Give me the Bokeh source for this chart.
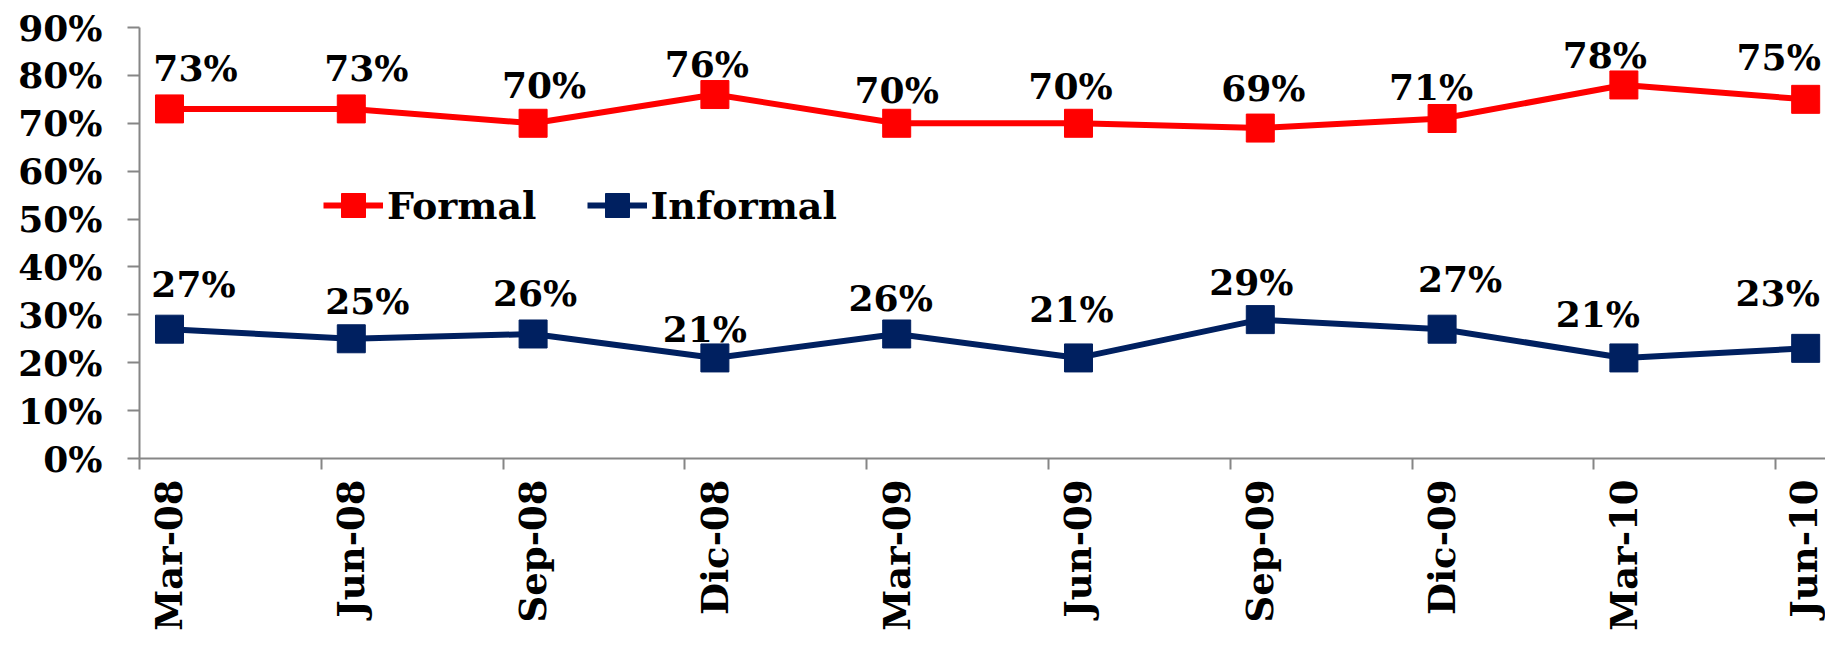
import math
from bokeh.plotting import figure
from bokeh.models import (ColumnDataSource, FixedTicker, Range1d, Legend, LegendItem,
                          PrintfTickFormatter)
from bokeh.embed import file_html
from bokeh.resources import INLINE
from bokeh.core.properties import value

# ---- data ----
periods = ["Mar-08", "Jun-08", "Sep-08", "Dic-08", "Mar-09",
           "Jun-09", "Sep-09", "Dic-09", "Mar-10", "Jun-10"]
formal = [73, 73, 70, 76, 70, 70, 69, 71, 78, 75]
informal = [27, 25, 26, 21, 26, 21, 29, 27, 21, 23]
y_ticks = [0, 10, 20, 30, 40, 50, 60, 70, 80, 90]

# ---- label nudges (screen px, label baseline relative to marker centre) ----
formal_dx = [26, 15, 11, -8, 0, -8, 3, -11, -19, -27]
formal_dy = [31, 31, 28, 21, 23, 27, 30, 21, 20, 32]
informal_dx = [24, 16, 2, -10, -6, -7, -9, 18, -26, -28]
informal_dy = [35, 28, 31, 19, 26, 39, 28, 40, 34, 45]
LABEL_LIFT = 10

FONT = "DejaVu Serif"
RED = "#FF0000"
NAVY = "#002060"
AXIS = "#868686"
TICK_SHIFT = 0.165

xs = list(range(len(periods)))

p = figure(width=1825, height=634, output_backend="svg", toolbar_location=None,
           x_range=Range1d(-TICK_SHIFT, 9.109), y_range=Range1d(0, 90),
           min_border_left=139, min_border_right=0, min_border_top=27,
           min_border_bottom=176)
p.outline_line_color = None
p.grid.visible = False
p.background_fill_color = "white"

# x axis
xa = p.xaxis[0]
xa.ticker = FixedTicker(ticks=xs, minor_ticks=[i - TICK_SHIFT for i in xs])
xa.major_label_overrides = {i: lab for i, lab in enumerate(periods)}
xa.major_tick_out = 0
xa.major_tick_in = 0
xa.minor_tick_out = 11
xa.minor_tick_in = 0
xa.minor_tick_line_color = AXIS
xa.minor_tick_line_width = 2
xa.axis_line_color = AXIS
xa.axis_line_width = 2
xa.major_label_orientation = math.pi / 2
xa.major_label_standoff = 10
xa.major_label_text_font = FONT
xa.major_label_text_font_style = "bold"
xa.major_label_text_font_size = "37px"
xa.major_label_text_color = "black"

# y axis
ya = p.yaxis[0]
ya.ticker = FixedTicker(ticks=y_ticks)
ya.formatter = PrintfTickFormatter(format="%d%%")
ya.major_tick_out = 12
ya.major_tick_in = 0
ya.minor_tick_out = 0
ya.minor_tick_in = 0
ya.major_tick_line_color = AXIS
ya.major_tick_line_width = 2
ya.axis_line_color = AXIS
ya.axis_line_width = 2
ya.major_label_standoff = 25
ya.major_label_text_font = FONT
ya.major_label_text_font_style = "bold"
ya.major_label_text_font_size = "36px"
ya.major_label_text_color = "black"

# series
fl = p.line(xs, formal, line_color=RED, line_width=6)
fs = p.scatter(xs, formal, marker="square", size=28, fill_color=RED, line_color=RED)
il = p.line(xs, informal, line_color=NAVY, line_width=6)
iS = p.scatter(xs, informal, marker="square", size=28, fill_color=NAVY, line_color=NAVY)

# data labels
vals = formal + informal
src = ColumnDataSource(dict(
    x=xs + xs,
    y=vals,
    text=[f"{v}%" for v in vals],
    dx=formal_dx + informal_dx,
    dy=[-(d + LABEL_LIFT) for d in formal_dy + informal_dy],
))
p.text(x="x", y="y", text="text", x_offset="dx", y_offset="dy", source=src,
       text_align="center", text_baseline="alphabetic",
       text_font=value(FONT), text_font_style="bold", text_font_size="36px",
       text_color="black")

legend = Legend(items=[LegendItem(label="Formal", renderers=[fl, fs]),
                       LegendItem(label="Informal", renderers=[il, iS])],
                location=(184, 220), orientation="horizontal",
                glyph_width=60, glyph_height=66, label_standoff=4, spacing=50,
                padding=0, margin=0, border_line_color=None,
                background_fill_alpha=0,
                label_text_font=FONT, label_text_font_style="bold",
                label_text_font_size="38px", label_text_color="black")
p.add_layout(legend)

open("out.html", "w").write(file_html(p, INLINE))
